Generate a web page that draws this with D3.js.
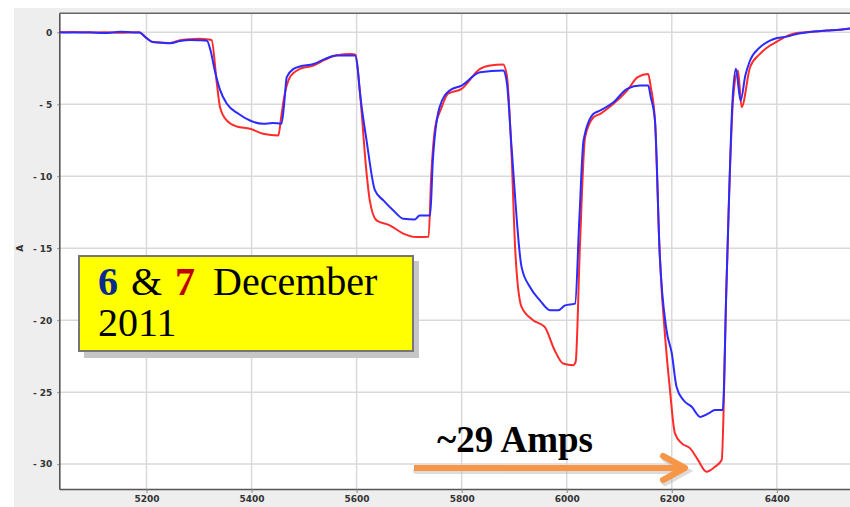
<!DOCTYPE html>
<html>
<head>
<meta charset="utf-8">
<script src="https://cdn.jsdelivr.net/npm/d3@7"></script>
<style>
  body { margin: 0; background: #fff; }
  .tick text { font-family: "DejaVu Sans", sans-serif; font-weight: bold; font-size: 9px; fill: #333; }
</style>
</head>
<body>
<div id="chart"></div>
<script>
// current on 6 December (blue) and 7 December (red), [sample, amps]
const dec6 = [
  [5034, 0.0], [5060, -0.02], [5090, 0.0], [5120, -0.05], [5150, 0.03], [5170, 0.0], [5186, -0.02],
  [5200, -0.4], [5212, -0.68], [5230, -0.72], [5245, -0.76], [5264, -0.6], [5283, -0.53], [5300, -0.55],
  [5315, -0.58], [5322, -1.27], [5330, -2.66], [5340, -4.0], [5353, -4.97], [5375, -5.66], [5397, -6.13],
  [5422, -6.36], [5440, -6.3], [5457, -6.35], [5462, -5.0], [5467, -3.12], [5480, -2.54], [5492, -2.38],
  [5518, -2.2], [5540, -1.85], [5562, -1.62], [5597, -1.62], [5602, -2.5], [5606, -4.05], [5619, -7.52],
  [5635, -10.99], [5651, -11.68], [5670, -12.38], [5689, -12.95], [5711, -13.0], [5720, -12.72],
  [5740, -12.72], [5745, -9.0], [5758, -5.2], [5777, -4.05], [5800, -3.7], [5835, -2.78], [5879, -2.66],
  [5886, -3.5], [5895, -8.0], [5914, -16.3], [5930, -17.7], [5949, -18.62], [5968, -19.31], [5984, -19.31],
  [5997, -18.97], [6016, -18.85], [6024, -13.0], [6032, -7.52], [6051, -5.66], [6064, -5.43], [6089, -4.86],
  [6115, -3.93], [6140, -3.7], [6155, -3.7], [6160, -4.5], [6168, -6.13], [6177, -15.38], [6190, -20.7],
  [6200, -22.3], [6209, -24.63], [6222, -25.55], [6238, -26.02], [6254, -26.72], [6270, -26.48],
  [6282, -26.25], [6297, -26.25], [6304, -17.7], [6316, -4.51], [6322, -2.54], [6331, -4.74], [6340, -3.0],
  [6349, -1.96], [6368, -1.04], [6387, -0.58], [6400, -0.4], [6419, -0.3], [6440, -0.1], [6470, 0.05],
  [6495, 0.12], [6520, 0.18], [6545, 0.3]
];
const dec7 = [
  [5034, 0.0], [5060, 0.02], [5090, -0.02], [5120, 0.0], [5150, -0.03], [5186, 0.0], [5200, -0.4],
  [5212, -0.68], [5245, -0.74], [5264, -0.55], [5283, -0.48], [5300, -0.45], [5318, -0.5], [5324, -0.55],
  [5334, -3.58], [5340, -5.2], [5353, -6.13], [5372, -6.54], [5397, -6.7], [5422, -7.05], [5451, -7.17],
  [5456, -6.0], [5461, -4.74], [5473, -3.12], [5492, -2.54], [5518, -2.31], [5540, -1.9], [5562, -1.6],
  [5590, -1.5], [5598, -1.55], [5606, -4.05], [5619, -9.8], [5625, -11.68], [5638, -13.07], [5663, -13.41],
  [5689, -13.99], [5714, -14.23], [5737, -14.2], [5742, -10.0], [5750, -6.5], [5760, -5.4], [5774, -4.27],
  [5800, -3.93], [5835, -2.54], [5854, -2.31], [5879, -2.24], [5886, -3.0], [5895, -8.5], [5902, -15.15],
  [5914, -19.08], [5936, -20.0], [5958, -20.47], [5977, -22.09], [5993, -23.01], [6012, -23.13],
  [6017, -22.9], [6025, -15.0], [6035, -7.29], [6051, -5.9], [6064, -5.66], [6089, -4.97], [6115, -4.05],
  [6135, -3.12], [6155, -2.89], [6160, -3.8], [6168, -6.13], [6177, -15.38], [6190, -22.32], [6196, -24.63],
  [6206, -27.87], [6219, -28.56], [6235, -28.91], [6250, -29.72], [6266, -30.53], [6282, -30.19],
  [6295, -29.72], [6304, -17.7], [6317, -4.51], [6326, -2.66], [6333, -5.2], [6349, -2.43], [6368, -1.5],
  [6387, -0.92], [6400, -0.65], [6430, -0.11], [6470, 0.05], [6495, 0.12], [6520, 0.18], [6545, 0.3]
];
const xTicks = [5200, 5400, 5600, 5800, 6000, 6200, 6400];
const yTicks = [0, -5, -10, -15, -20, -25, -30];
const yTitle = "A";
const peakLabel = "~29 Amps";

const W = 850, H = 507;
const pLeft = 59.3, pTop = 13.3, pBottom = 489, pRight = 853;

const svg = d3.select("#chart").append("svg")
  .attr("width", W).attr("height", H);

// gray panel behind plot
svg.append("rect").attr("x", 14).attr("y", 8).attr("width", W - 14).attr("height", H - 8).attr("fill", "#eeeeee");
svg.append("rect").attr("x", pLeft).attr("y", pTop).attr("width", pRight - pLeft).attr("height", pBottom - pTop).attr("fill", "#fff");

const x = d3.scaleLinear().domain([5034, 6545]).range([pLeft, pRight]);
const y = d3.scaleLinear().domain([-31.73, 1.32]).range([pBottom, pTop]);

// grid
svg.append("g").selectAll("line").data(xTicks).join("line")
  .attr("x1", d => x(d)).attr("x2", d => x(d)).attr("y1", pTop).attr("y2", pBottom)
  .attr("stroke", "#d9d9d9").attr("stroke-width", 1.5);
svg.append("g").selectAll("line").data(yTicks).join("line")
  .attr("x1", pLeft).attr("x2", pRight).attr("y1", d => y(d)).attr("y2", d => y(d))
  .attr("stroke", "#d9d9d9").attr("stroke-width", 1.5);

// axes
const xAxis = svg.append("g").attr("transform", `translate(0,${pBottom})`)
  .call(d3.axisBottom(x).tickValues(xTicks).tickSize(4).tickSizeOuter(0).tickPadding(3).tickFormat(d3.format("d")));
const yAxis = svg.append("g").attr("transform", `translate(${pLeft},0)`)
  .call(d3.axisLeft(y).tickValues(yTicks).tickSize(2).tickSizeOuter(0).tickPadding(5)
    .tickFormat(d => d === 0 ? "0" : "- " + Math.abs(d)));
[xAxis, yAxis].forEach(a => {
  a.select(".domain").attr("stroke", "#555").attr("stroke-width", 1.6);
  a.selectAll(".tick line").attr("stroke", "#888");
});
svg.append("line").attr("x1", pLeft).attr("x2", pRight).attr("y1", pTop).attr("y2", pTop)
  .attr("stroke", "#666").attr("stroke-width", 1.6);

svg.append("text")
  .attr("transform", `translate(23,${y(-15)}) rotate(-90)`)
  .attr("text-anchor", "middle")
  .style("font-family", "DejaVu Sans, sans-serif").style("font-weight", "bold").style("font-size", "9px")
  .attr("fill", "#333").text(yTitle);

// lines
svg.append("clipPath").attr("id", "clip").append("rect")
  .attr("x", pLeft).attr("y", pTop).attr("width", pRight - pLeft).attr("height", pBottom - pTop);
const line = d3.line().curve(d3.curveMonotoneX).x(d => x(d[0])).y(d => y(d[1]));
svg.append("path").datum(dec7).attr("clip-path", "url(#clip)")
  .attr("fill", "none").attr("stroke", "#ff2b2b").attr("stroke-width", 2).attr("stroke-linejoin", "round").attr("d", line);
svg.append("path").datum(dec6).attr("clip-path", "url(#clip)")
  .attr("fill", "none").attr("stroke", "#2b2bff").attr("stroke-width", 2).attr("stroke-linejoin", "round").attr("d", line);

// date box
svg.append("rect").attr("x", 84).attr("y", 261).attr("width", 335).attr("height", 97).attr("fill", "#c6c6c6");
svg.append("rect").attr("x", 79).attr("y", 256).attr("width", 334).attr("height", 95)
  .attr("fill", "#ffff00").attr("stroke", "#777").attr("stroke-width", 2);
const serif = "Liberation Serif, Times New Roman, serif";
const box = svg.append("text").attr("y", 295)
  .style("font-family", serif).style("font-size", "40px");
box.append("tspan").attr("x", 98).attr("font-weight", "bold").attr("fill", "#0b2a8c").text("6");
box.append("tspan").attr("x", 131).attr("fill", "#000").text("&");
box.append("tspan").attr("x", 175).attr("font-weight", "bold").attr("fill", "#c00000").text("7");
box.append("tspan").attr("x", 213).attr("fill", "#000").text("December");
svg.append("text").attr("x", 98).attr("y", 336)
  .style("font-family", serif).style("font-size", "40px")
  .attr("fill", "#000").text("2011");

// peak arrow
const arrow = svg.append("g");
arrow.append("g").attr("transform", "translate(2,3)")
  .attr("stroke", "#bbb").attr("stroke-width", 6).attr("fill", "none").attr("stroke-linecap", "round").attr("opacity", 0.5)
  .call(g => {
    g.append("line").attr("x1", 414).attr("y1", 468).attr("x2", 683).attr("y2", 468);
    g.append("polyline").attr("points", "663,456 685,468 663,480");
  });
arrow.append("line").attr("x1", 414).attr("y1", 468).attr("x2", 683).attr("y2", 468)
  .attr("stroke", "#f79646").attr("stroke-width", 6);
arrow.append("polyline").attr("points", "663,456 685,468 663,480")
  .attr("fill", "none").attr("stroke", "#f79646").attr("stroke-width", 6)
  .attr("stroke-linecap", "round").attr("stroke-linejoin", "round");
svg.append("text").attr("x", 437).attr("y", 452)
  .style("font-family", serif).style("font-size", "37px").style("font-weight", "bold")
  .attr("fill", "#000").text(peakLabel);
</script>
</body>
</html>
